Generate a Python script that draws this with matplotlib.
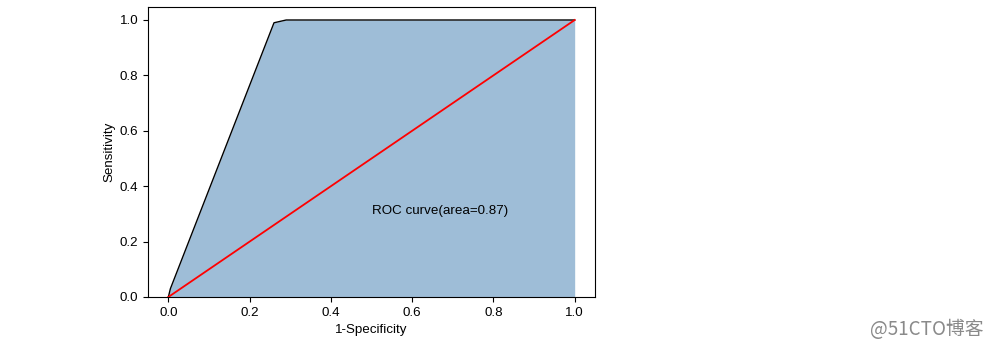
import matplotlib.pyplot as plt
import numpy as np

plt.rcParams['font.family'] = ['Liberation Sans', 'DejaVu Sans']
plt.rcParams['font.size'] = 9.6

# ROC curve points
fpr = [0.0, 0.005, 0.26, 0.29, 1.0]
tpr = [0.0, 0.03, 0.99, 1.0, 1.0]
roc_auc = 0.87

fig = plt.figure(figsize=(10.01, 3.49), dpi=100)
ax = fig.add_axes([0.1479, 0.149, 0.4465, 0.831])

ax.plot(fpr, tpr, color='black', lw=1)
ax.fill_between(fpr, tpr, color='steelblue', alpha=0.52, lw=0)
ax.plot([0, 1], [0, 1], color='red', lw=1.3)
ax.text(0.5, 0.3, 'ROC curve(area=%0.2f)' % roc_auc)

ax.set_xlim(-0.05, 1.05)
ax.set_ylim(0, 1.047)
ax.set_xlabel('1-Specificity', labelpad=3.5)
ax.set_ylabel('Sensitivity', labelpad=3)

fig.text(0.869, 0.055, '@51CTO博客', color='#8a8a8a', fontsize=13.5,
         family=['Noto Sans CJK SC', 'DejaVu Sans'], va='center')

fig.savefig('out.png')
